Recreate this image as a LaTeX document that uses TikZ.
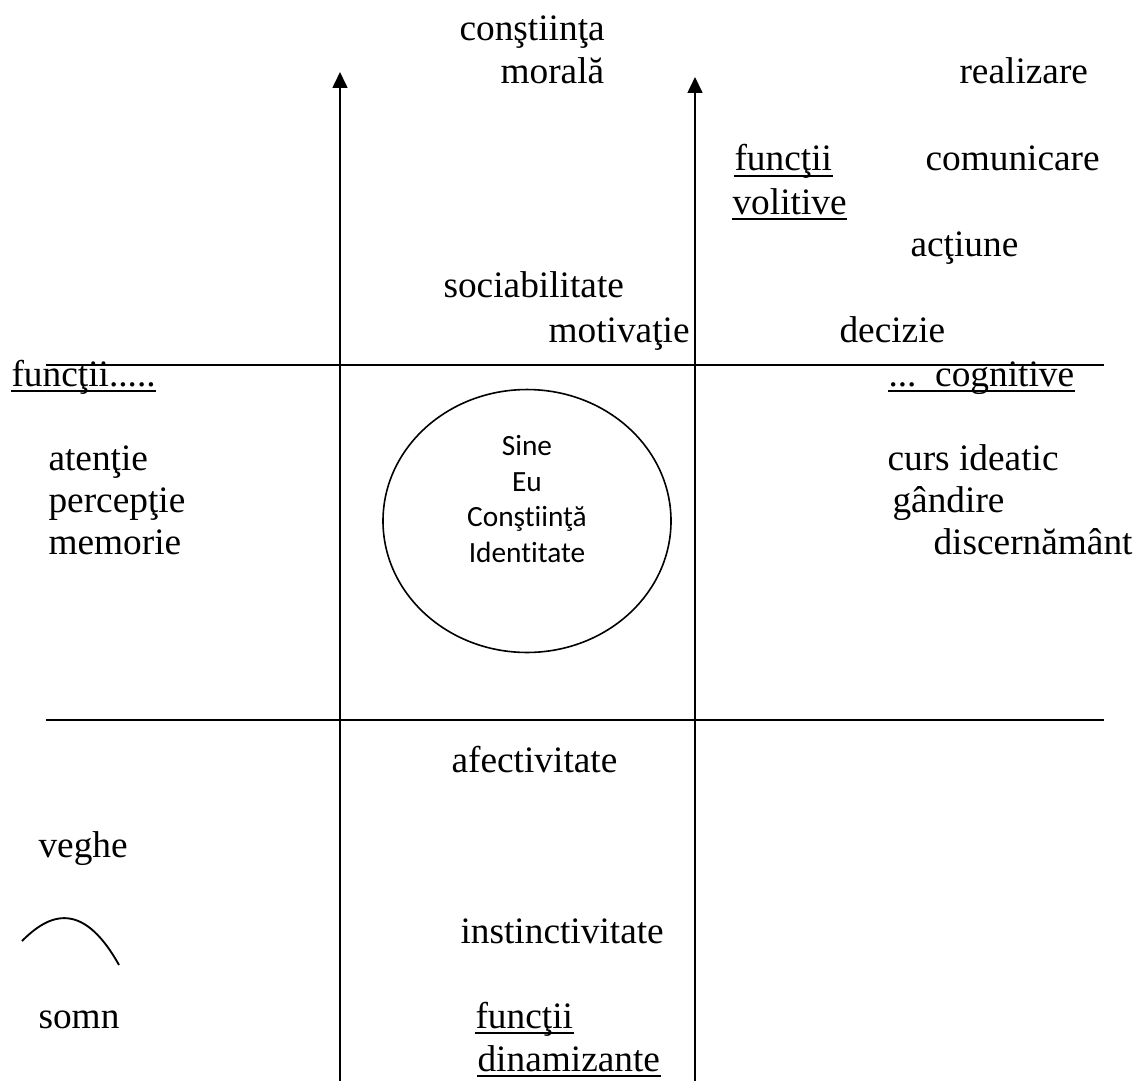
\documentclass[tikz,border=0pt]{standalone}
\usepackage{fontspec}
\setmainfont{Liberation Serif}
\newfontfamily\calibrifont[Ligatures=NoCommon]{Carlito}
\usetikzlibrary{arrows.meta,shapes.geometric}
\tikzset{
  lbl/.style={anchor=base west, inner sep=0pt, font=\fontsize{14}{16.1}\selectfont},
  inlbl/.style={anchor=base, inner sep=0pt, font=\calibrifont\fontsize{11}{13.4}\selectfont},
  axis/.style={line width=0.7pt},
  arr/.style={line width=0.7pt, -{Triangle[length=6pt,width=5.6pt]}},
  ul/.style={line width=0.75pt},
}
\begin{document}
\begin{tikzpicture}[x=0.375pt,y=-0.375pt]
\useasboundingbox (0,0) rectangle (1137,1081);
% axes
\coordinate (vlb) at (340,1081); \coordinate (vlt) at (340,72);
\coordinate (vrb) at (695,1081); \coordinate (vrt) at (695,77);
\coordinate (htl) at (46,365);   \coordinate (htr) at (1104,365);
\coordinate (hbl) at (46,720);   \coordinate (hbr) at (1104,720);
\draw[arr] (vlb) -- (vlt);
\draw[arr] (vrb) -- (vrt);
\draw[axis] (htl) -- (htr);
\draw[axis] (hbl) -- (hbr);
% central ellipse
\node[draw, line width=0.6pt, ellipse, minimum width=108pt, minimum height=98.6pt, inner sep=0pt] (self) at (527,521) {};
\node[inlbl] (sine) at (527,455) {Sine};
\node[inlbl] (eu) at (527,491) {Eu};
\node[inlbl] (constiinta) at (527,526) {Conştiinţă};
\node[inlbl] (identitate) at (527,562) {Identitate};
% top
\node[lbl] (cm1) at (459,41) {conştiinţa};
\node[lbl] (cm2) at (500,84) {morală};
\node[lbl] (realizare) at (959,84) {realizare};
\node[lbl] (fv1) at (734,171) {funcţii};
\node[lbl] (comunicare) at (925,171) {comunicare};
\node[lbl] (fv2) at (732,214) {volitive};
\node[lbl] (actiune) at (910,256) {acţiune};
\node[lbl] (sociab) at (443,297) {sociabilitate};
\node[lbl] (motiv) at (548,342) {motivaţie};
\node[lbl] (decizie) at (839,342) {decizie};
% middle
\node[lbl] (fl) at (11,386) {funcţii.....};
\node[lbl] (fr) at (888,386) {...\ \ cognitive};
\node[lbl] (atentie) at (48,470) {atenţie};
\node[lbl] (perceptie) at (48,512) {percepţie};
\node[lbl] (memorie) at (48,554) {memorie};
\node[lbl] (curs) at (887,470) {curs ideatic};
\node[lbl] (gandire) at (892,512) {gândire};
\node[lbl] (discern) at (933,554) {discernământ};
% bottom
\node[lbl] (afect) at (451,772) {afectivitate};
\node[lbl] (veghe) at (38,857) {veghe};
\node[lbl] (instinct) at (460,943) {instinctivitate};
\node[lbl] (somn) at (38,1028) {somn};
\node[lbl] (fd1) at (475,1028) {funcţii};
\node[lbl] (fd2) at (477,1071) {dinamizante};
% curve
\coordinate (cs) at (22,941);
\coordinate (ce) at (119,965);
\draw[line width=0.7pt] (cs) .. controls (45,918) and (80,895) .. (ce);
% underlines
\foreach \n in {fv1,fv2,fl,fr,fd1,fd2}{
  \draw[ul] ([yshift=-2pt]\n.base west) -- ([yshift=-2pt]\n.base east);
}
\end{tikzpicture}
\end{document}
